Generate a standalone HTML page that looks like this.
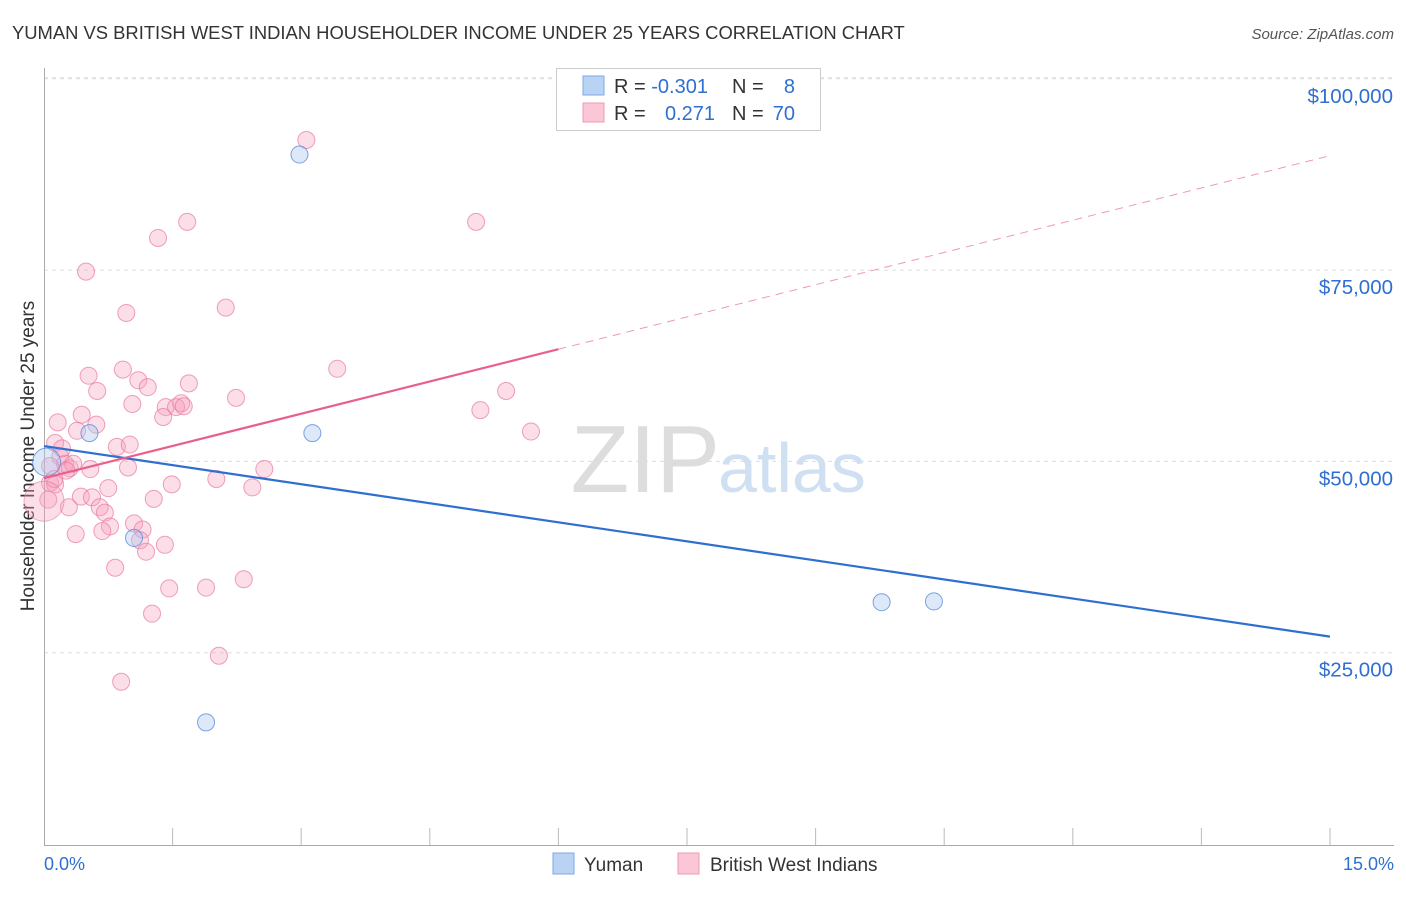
<!DOCTYPE html>
<html><head><meta charset="utf-8"><style>
body{margin:0;background:#fff;font-family:"Liberation Sans",sans-serif;}
svg text{font-family:"Liberation Sans",sans-serif;}
</style></head><body>
<svg id="chart" width="1406" height="892" xmlns="http://www.w3.org/2000/svg">
<text x="12" y="39" font-size="18.4" fill="#333">YUMAN VS BRITISH WEST INDIAN HOUSEHOLDER INCOME UNDER 25 YEARS CORRELATION CHART</text>
<text x="1394" y="39" font-size="15" fill="#555" font-style="italic" text-anchor="end">Source: ZipAtlas.com</text>
<text x="34" y="456" font-size="19" fill="#333" text-anchor="middle" transform="rotate(-90 34 456)">Householder Income Under 25 years</text>
<g id="grid"></g>
<text x="720" y="492" font-size="96" fill="#ddd" font-family="Liberation Serif" text-anchor="end">ZIP</text>
<text x="718" y="492" font-size="70" fill="#cfe0f3">atlas</text>
<g id="points"></g>
<g id="lines"></g>
<g>
<rect x="556.5" y="68.5" width="264" height="62" fill="#fff" stroke="#ccc"/>
<rect x="583" y="76" width="21" height="19" fill="#b9d3f5" stroke="#7fa9e6"/>
<rect x="583" y="103" width="21" height="19" fill="#fbc6d6" stroke="#ee99b3"/>
<text x="614" y="93" font-size="20" fill="#333">R = <tspan fill="#2f6fd1">-0.301</tspan></text>
<text x="732" y="93" font-size="20" fill="#333">N = </text><text x="795" y="93" font-size="20" fill="#2f6fd1" text-anchor="end">8</text>
<text x="614" y="120" font-size="20" fill="#333">R = </text><text x="715" y="120" font-size="20" fill="#2f6fd1" text-anchor="end">0.271</text>
<text x="732" y="120" font-size="20" fill="#333">N = </text><text x="795" y="120" font-size="20" fill="#2f6fd1" text-anchor="end">70</text>
</g>
<text x="44" y="870" font-size="18" fill="#2f6fd1">0.0%</text>
<text x="1394" y="870" font-size="18" fill="#2f6fd1" text-anchor="end">15.0%</text>
<rect x="553" y="853" width="21" height="21" fill="#b9d3f5" stroke="#7fa9e6"/>
<text x="584" y="871" font-size="19" fill="#333">Yuman</text>
<rect x="678" y="853" width="21" height="21" fill="#fbc6d6" stroke="#ee99b3"/>
<text x="710" y="871" font-size="19" fill="#333">British West Indians</text>
</svg>
<script>
const yTicks=[25000,50000,75000,100000];
const yTickLabels=["$25,000","$50,000","$75,000","$100,000"];
const yumanX=[0.03,0.53,3.13,1.05,1.89,9.77,10.38,2.98];
const yumanY=[49900,53700,53700,40000,15900,31600,31700,90100];
const bwiX=[3.06,5.04,1.67,1.33,0.49,2.12,0.96,3.42,0.52,0.92,1.10,1.21,1.69,2.24,0.62,1.03,1.42,1.60,1.54,1.63,1.39,5.39,5.09,5.68,0.16,0.44,0.385,0.61,0.85,0.13,0.19,0.245,0.30,0.07,0.54,0.98,2.57,2.01,2.43,1.49,0.07,0.05,0.29,0.43,0.56,0.65,0.75,0.71,1.28,0.77,0.68,0.37,1.05,1.15,1.12,1.41,1.19,0.83,2.33,1.46,1.89,1.26,2.04,0.90,0.13,0.21,0.34,0.26,0.12,1.00];
const bwiY=[92000,81300,81300,79200,74800,70100,69400,62100,61200,62000,60600,59700,60200,58300,59200,57500,57100,57600,57100,57200,55800,59200,56700,53900,55100,56100,54000,54800,51900,52400,50600,49700,49100,49400,49000,49200,49000,47700,46600,47000,47200,45000,44000,45400,45300,44000,46500,43300,45100,41500,40900,40500,41900,41100,39700,39100,38200,36100,34600,33400,33500,30100,24600,21200,47000,51700,49700,48800,47700,52200];
const blueLine=[52000,-1660];
const pinkLine=[47800,2810];
const pinkSolidEnd=6.0, xMax=15;
const X=v=>44+v/15*1286, Y=v=>844-v/25000*191.3;
const ns="http://www.w3.org/2000/svg";
function mk(t,a,p){const e=document.createElementNS(ns,t);for(const k in a)e.setAttribute(k,a[k]);p.appendChild(e);return e;}
const g=document.getElementById('grid');
yTicks.forEach((t,i)=>{
 const l=mk('line',{x1:44,x2:1394,y1:Y(t),y2:Y(t),stroke:'#ddd','stroke-dasharray':'4 4'},g);
 
 
 const tx=mk('text',{x:1393,y:Y(t)+24,'font-size':20.5,fill:'#2f6fd1','text-anchor':'end'},g);
 tx.textContent=yTickLabels[i];
 
 
});
mk('line',{x1:44,x2:1394,y1:Y(100000)-1,y2:Y(100000)-1,stroke:'#ddd','stroke-dasharray':'4 4'},g);
mk('line',{x1:44.5,x2:44.5,y1:68,y2:845,stroke:'#aaa'},g);
mk('line',{x1:44,x2:1394,y1:845.5,y2:845.5,stroke:'#aaa'},g);
for(let i=1;i<=10;i++){const t=mk('line',{x1:X(i*1.5),x2:X(i*1.5),y1:828,y2:845,stroke:'#bbb'},g);
 
 }
const p=document.getElementById('points');
bwiX.forEach((x,i)=>{const c=mk('circle',{cx:X(x),cy:Y(bwiY[i]),r:8.5,fill:'rgba(246,160,188,0.35)',stroke:'rgba(232,120,160,0.7)','stroke-width':1},p);
 
 });
const big=mk('circle',{cx:X(0),cy:Y(44800),r:20,fill:'rgba(246,160,188,0.35)',stroke:'rgba(232,120,160,0.6)'},p);


yumanX.forEach((x,i)=>{const c=mk('circle',{cx:X(x),cy:Y(yumanY[i]),r:i==0?14:8.5,fill:'rgba(170,200,240,0.4)',stroke:'rgba(90,140,220,0.8)','stroke-width':1},p);
 
 });
const L=document.getElementById('lines');
const f=(l,x)=>l[0]+l[1]*x;
const bl=mk('line',{x1:X(0),y1:Y(f(blueLine,0)),x2:X(xMax),y2:Y(f(blueLine,xMax)),stroke:'#2f6fd1','stroke-width':2.2},L);


const ps=mk('line',{x1:X(0),y1:Y(f(pinkLine,0)),x2:X(pinkSolidEnd),y2:Y(f(pinkLine,pinkSolidEnd)),stroke:'#e8608c','stroke-width':2.2},L);


const pd=mk('line',{x1:X(pinkSolidEnd),y1:Y(f(pinkLine,pinkSolidEnd)),x2:X(xMax),y2:Y(f(pinkLine,xMax)),stroke:'#ee99b3','stroke-width':1,'stroke-dasharray':'8 6'},L);


</script>
</body></html>
